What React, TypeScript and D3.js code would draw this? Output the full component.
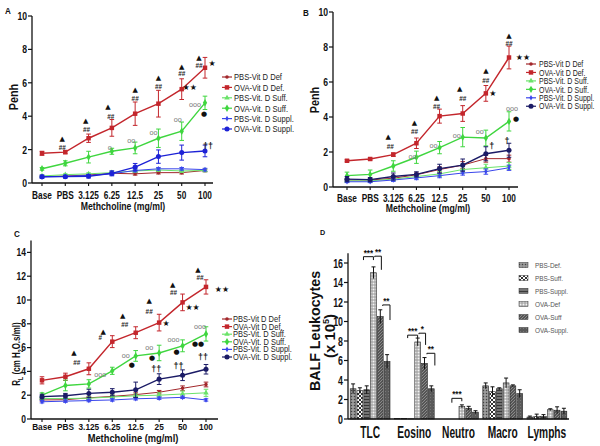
import React from "react";
import * as d3 from "d3";

const doses = ["Base", "PBS", "3.125", "6.25", "12.5", "25", "50", "100"];
const groups = ["PBS-Vit D Def", "OVA-Vit D Def.", "PBS-Vit. D Suff.", "OVA-Vit. D Suff.", "PBS-Vit. D Suppl.", "OVA-Vit. D Suppl."];

// A: Penh
const penhA = [
  [0.38, 0.42, 0.48, 0.58, 0.55, 0.62, 0.62, 0.75],
  [1.78, 1.85, 2.68, 3.3, 4.15, 4.75, 5.62, 6.9],
  [0.42, 0.5, 0.55, 0.62, 0.72, 0.78, 0.72, 0.75],
  [0.85, 1.18, 1.55, 1.9, 2.1, 2.68, 3.1, 4.8],
  [0.35, 0.4, 0.45, 0.55, 0.75, 0.85, 0.85, 0.8],
  [0.38, 0.38, 0.4, 0.58, 0.95, 1.58, 1.82, 1.92],
];
const penhAErr = [
  [0.05, 0.05, 0.05, 0.08, 0.08, 0.08, 0.08, 0.08],
  [0.12, 0.1, 0.25, 0.5, 0.7, 0.8, 0.62, 0.62],
  [0.05, 0.05, 0.06, 0.08, 0.08, 0.08, 0.08, 0.08],
  [0.08, 0.15, 0.35, 0.18, 0.35, 0.55, 0.55, 0.4],
  [0.05, 0.05, 0.05, 0.08, 0.08, 0.08, 0.08, 0.08],
  [0.1, 0.08, 0.1, 0.15, 0.22, 0.4, 0.45, 0.35],
];

// B: Penh
const penhB = [
  [0.4, 0.4, 0.5, 0.7, 1.0, 1.25, 1.62, 1.62],
  [1.5, 1.6, 1.85, 2.5, 4.05, 4.2, 5.35, 7.4],
  [0.35, 0.35, 0.45, 0.6, 0.75, 1.0, 1.1, 1.2],
  [0.65, 0.72, 1.2, 1.7, 2.25, 2.85, 2.8, 3.75],
  [0.3, 0.3, 0.4, 0.52, 0.65, 0.8, 0.88, 1.1],
  [0.45, 0.42, 0.6, 0.72, 1.05, 1.25, 1.9, 2.1],
];
const penhBErr = [
  [0.05, 0.05, 0.08, 0.1, 0.15, 0.2, 0.2, 0.2],
  [0.06, 0.06, 0.1, 0.3, 0.4, 0.45, 0.45, 0.65],
  [0.05, 0.05, 0.1, 0.1, 0.15, 0.2, 0.2, 0.2],
  [0.2, 0.25, 0.3, 0.35, 0.35, 0.55, 0.45, 0.55],
  [0.05, 0.05, 0.08, 0.1, 0.12, 0.12, 0.15, 0.15],
  [0.15, 0.12, 0.2, 0.15, 0.25, 0.35, 0.4, 0.4],
];

// C: lung resistance
const rlC = [
  [1.6, 1.62, 1.78, 1.9, 2.05, 2.25, 2.58, 2.9],
  [3.25, 3.55, 4.22, 6.5, 7.25, 8.1, 9.8, 11.1],
  [1.72, 1.72, 1.75, 1.85, 1.95, 2.0, 2.1, 2.2],
  [2.0, 2.82, 2.95, 4.05, 5.3, 5.55, 6.15, 7.15],
  [1.45, 1.5, 1.55, 1.6, 1.7, 1.75, 1.82, 1.6],
  [1.88, 1.95, 2.15, 2.25, 2.45, 3.35, 3.68, 4.18],
];
const rlCErr = [
  [0.1, 0.1, 0.1, 0.1, 0.15, 0.15, 0.2, 0.2],
  [0.3, 0.3, 0.5, 0.5, 0.5, 0.7, 0.7, 0.6],
  [0.1, 0.1, 0.1, 0.15, 0.15, 0.2, 0.25, 0.3],
  [0.2, 0.45, 0.35, 0.3, 0.45, 0.65, 0.5, 0.6],
  [0.1, 0.1, 0.1, 0.1, 0.1, 0.1, 0.1, 0.1],
  [0.2, 0.2, 0.35, 0.3, 0.65, 0.45, 0.45, 0.4],
];

// D: BALF cells
const cellTypes = ["TLC", "Eosino", "Neutro", "Macro", "Lymphs"];
const balfGroups = ["PBS-Def.", "PBS-Suff.", "PBS-Suppl.", "OVA-Def", "OVA-Suff", "OVA-Suppl."];
const balf = [
  [3.1, 0.05, 0, 3.4, 0.2],
  [2.9, 0.05, 0, 2.8, 0.25],
  [3.0, 0.02, 0, 3.1, 0.25],
  [15.0, 7.9, 1.3, 3.7, 0.95],
  [10.5, 5.7, 1.1, 3.4, 0.9],
  [5.9, 3.1, 0.7, 2.6, 0.8],
];
const balfErr = [
  [0.5, 0, 0, 0.3, 0.1],
  [0.3, 0, 0, 0.5, 0.25],
  [0.4, 0, 0, 0.1, 0.2],
  [0.6, 0.4, 0.15, 0.5, 0.1],
  [0.7, 0.6, 0.2, 0.1, 0.35],
  [0.7, 0.3, 0.15, 0.4, 0.3],
];

// significance symbols: [dose index, level, text, dx]
const marksA: [number, number, string, number][] = [
  [1, 2.69, "▲", -3], [1, 2.16, "##", -3], [2, 3.71, "▲", -3], [2, 3.23, "##", -2],
  [3, 4.55, "▲", -4], [3, 4.01, "##", -1], [4, 5.57, "▲", 0], [4, 5.09, "##", 0],
  [5, 6.29, "▲", 0], [5, 5.81, "##", 0], [6, 7.0, "▲", 0], [6, 6.59, "##", 0],
  [7, 7.54, "▲", -6], [7, 7.07, "##", -6], [6, 5.75, "★★", 8], [7, 7.19, "★", 7],
  [3, 2.16, "o", -2], [4, 2.57, "oo", -4], [5, 3.05, "oo", -5], [6, 3.83, "oo", -4],
  [7, 4.73, "ooo", -10], [7, 4.13, "●", -1], [7, 2.22, "††", 3],
];
const marksB: [number, number, string, number][] = [
  [2, 2.91, "▲", -5], [2, 2.34, "##", -3], [3, 3.71, "▲", -2], [3, 3.2, "##", -2],
  [4, 5.14, "▲", -3], [4, 4.63, "##", -3], [5, 5.6, "▲", -3], [5, 5.09, "##", 0],
  [6, 6.63, "▲", 0], [6, 6.11, "##", 0], [7, 8.63, "▲", 0], [7, 8.23, "##", 0],
  [7, 7.43, "★★", 14], [6, 5.37, "★", 7],
  [3, 1.77, "oo", -4], [4, 2.4, "oo", -6], [5, 2.97, "oo", -6], [6, 3.2, "oo", -6],
  [7, 4.51, "ooo", 3], [7, 3.94, "●", 7], [6, 2.34, "†", 6], [7, 2.63, "†", -2],
];
const marksC: [number, number, string, number][] = [
  [2, 5.55, "▲", -15], [2, 4.79, "##", -12], [3, 7.39, "▲", -9], [3, 6.89, "#", -12],
  [4, 8.66, "▲", -13], [4, 7.98, "##", -11], [5, 9.92, "▲", -10], [5, 9.08, "##", -10],
  [6, 11.26, "▲", -10], [6, 10.67, "##", -9], [7, 12.52, "▲", -8], [7, 11.93, "##", -6],
  [5, 8.07, "★", 7], [6, 9.41, "★★", 10], [7, 10.92, "★★", 16],
  [3, 3.78, "ooo", -12], [4, 5.38, "oo", -10], [5, 6.05, "oo", -10], [6, 6.72, "ooo", -9],
  [7, 7.82, "ooo", -6], [4, 4.54, "●", -4], [5, 5.13, "●", -7], [6, 5.71, "●", -6],
  [7, 6.3, "●●", -8], [5, 4.2, "††", -3], [6, 4.45, "††", -4], [7, 5.21, "††", -3],
];
// brackets: [cell index, from bar, to bar, level, left drop, right drop, text]
const bracketsD: [number, number, number, number, number, number, string][] = [
  [0, 1.5, 3, 16.65, 0.35, 0.35, "***"],
  [0, 3.2, 4.2, 16.7, 0.1, 1.4, "**"],
  [0, 4.4, 5.5, 11.7, 0.1, 1.55, "**"],
  [1, 1.5, 3, 8.6, 0.3, 0.3, "***"],
  [1, 3.2, 4.2, 8.8, 0.1, 1.2, "*"],
  [1, 4.4, 5.6, 6.74, 0.1, 1.25, "**"],
  [2, 1.5, 3, 2.12, 0.45, 0.3, "***"],
];

const FONT = "'Liberation Sans', Arial, sans-serif";

function T({ x, y, s, sx = 1, rot = 0, w = "bold", a = "middle", fill = "#111", ff = FONT, children }: any) {
  return (
    <text transform={`translate(${x},${y}) rotate(${rot}) scale(${sx},1)`} fontSize={s} fontWeight={w}
      textAnchor={a} fill={fill} fontFamily={ff}>{children}</text>
  );
}

const shapes = [
  { shape: d3.symbolCircle, size: 10, width: 1 },
  { shape: d3.symbolSquare, size: 20, width: 1.4 },
  { shape: d3.symbolTriangle, size: 13, width: 1 },
  { shape: d3.symbolDiamond, size: 16, width: 1.4 },
  { shape: d3.symbolDiamond, size: 9, width: 1 },
  { shape: d3.symbolCircle, size: 20, width: 1.4 },
];

function markStyle(t: string) {
  if (t.includes("▲")) return { s: 7, w: "normal", fill: "#111", sx: 1, ff: "DejaVu Sans" };
  if (t.includes("#")) return { s: 8, w: "bold", fill: "#222", sx: 0.8, ff: FONT };
  if (t.includes("★")) return { s: 8, w: "normal", fill: "#111", sx: 1, ff: "DejaVu Sans" };
  if (t.includes("o")) return { s: 8, w: "normal", fill: "#777", sx: 0.9, ff: FONT };
  if (t.includes("●")) return { s: 7, w: "normal", fill: "#111", sx: 1, ff: "DejaVu Sans" };
  return { s: 9, w: "bold", fill: "#222", sx: 1, ff: FONT };
}

function LinePanel({ c, values, errors, marks, colors, yLabel }: any) {
  const x = d3.scalePoint<string>().domain(doses).range([c.xs, c.xe]);
  const y = d3.scaleLinear().domain([0, c.yMax]).range([c.y0, c.y1]);
  const line = d3.line<number>().x((_, i) => x(doses[i])!).y((d) => y(d));
  const ticks = d3.range(0, c.yTickMax + 0.01, c.yStep);
  const order = [0, 2, 4, 1, 3, 5];
  return (
    <g>
      <T x={c.letter[1]} y={c.letter[2]} s={9} sx={0.9} a="start">{c.letter[0]}</T>
      {order.map((k) => {
        const col = colors[k];
        const st = shapes[k];
        const sym = d3.symbol().type(st.shape).size(st.size)()!;
        return (
          <g key={k}>
            <path d={line(values[k])!} fill="none" stroke={col} strokeWidth={st.width} />
            {values[k].map((v: number, i: number) => {
              const cx = x(doses[i])!;
              const e = errors[k][i];
              return (
                <g key={i}>
                  <line x1={cx} x2={cx} y1={y(v - e)} y2={y(v + e)} stroke={col} strokeWidth={1} />
                  <line x1={cx - 2.3} x2={cx + 2.3} y1={y(v - e)} y2={y(v - e)} stroke={col} strokeWidth={1} />
                  <line x1={cx - 2.3} x2={cx + 2.3} y1={y(v + e)} y2={y(v + e)} stroke={col} strokeWidth={1} />
                  <path d={sym} transform={`translate(${cx},${y(v)})`} fill={col} />
                </g>
              );
            })}
          </g>
        );
      })}
      {/* axes */}
      <line x1={c.ax} x2={c.ax} y1={c.y0} y2={c.y1} stroke="#111" strokeWidth={1.3} />
      <line x1={c.ax} x2={c.axEnd} y1={c.y0} y2={c.y0} stroke="#111" strokeWidth={1.3} />
      {ticks.map((t: number) => (
        <g key={t}>
          <line x1={c.ax - 4} x2={c.ax} y1={y(t)} y2={y(t)} stroke="#111" strokeWidth={1.2} />
          <T x={c.ax - 5} y={y(t) + c.yFont * 0.35} s={c.yFont} sx={c.ySx} a="end">{t}</T>
        </g>
      ))}
      {doses.map((d) => (
        <g key={d}>
          <line x1={x(d)} x2={x(d)} y1={c.y0} y2={c.y0 + 3} stroke="#111" strokeWidth={1.1} />
          <T x={x(d)} y={c.xTickY} s={c.xFont} sx={c.xSx}>{d}</T>
        </g>
      ))}
      <T x={c.titleX} y={c.titleY} s={c.titleFont} sx={c.titleSx}>Methcholine (mg/ml)</T>
      {yLabel}
      {/* significance symbols */}
      {marks.map((m: any, i: number) => {
        const ms = markStyle(m[2]);
        return (
          <T key={i} x={x(doses[m[0]])! + m[3]} y={y(m[1]) + ms.s * 0.35} s={ms.s} sx={ms.sx} w={ms.w} fill={ms.fill} ff={ms.ff}>{m[2]}</T>
        );
      })}
      {/* legend */}
      {groups.map((g, k) => {
        const ly = c.legY + k * c.legDy;
        const sym = d3.symbol().type(shapes[k].shape).size(shapes[k].size)()!;
        return (
          <g key={g}>
            <line x1={c.legX - 5} x2={c.legX + 5} y1={ly} y2={ly} stroke={colors[k]} strokeWidth={1.2} />
            <path d={sym} transform={`translate(${c.legX},${ly})`} fill={colors[k]} />
            <T x={c.legX + c.legOff} y={ly + c.legFont * 0.35} s={c.legFont} sx={c.legSx} w="normal" a="start" fill="#222">{g}</T>
          </g>
        );
      })}
    </g>
  );
}

const colorsA = ["#a2272b", "#c3262c", "#6be36a", "#3fd63f", "#3a46ec", "#1d22d6"];
const colorsBC = ["#a2272b", "#c3262c", "#6be36a", "#3fd63f", "#3a46ec", "#1b1b66"];

const cfgA = {
  letter: ["A", 5, 14], xs: 42, xe: 205, y0: 183, y1: 16, yMax: 10, yTickMax: 10, yStep: 2, ax: 32, axEnd: 213,
  yFont: 11.5, ySx: 0.75, xTickY: 199, xFont: 11.5, xSx: 0.72, titleX: 123, titleY: 210, titleFont: 11, titleSx: 0.79,
  legX: 227, legY: 77, legDy: 10.4, legOff: 7, legFont: 9.5, legSx: 0.8,
};
const cfgB = {
  letter: ["B", 303, 16], xs: 347, xe: 509, y0: 187, y1: 12, yMax: 10, yTickMax: 10, yStep: 2, ax: 333, axEnd: 518,
  yFont: 11.5, ySx: 0.75, xTickY: 202, xFont: 11.5, xSx: 0.72, titleX: 428, titleY: 212, titleFont: 11, titleSx: 0.79,
  legX: 531, legY: 64, legDy: 8.45, legOff: 8, legFont: 9, legSx: 0.78,
};
const cfgC = {
  letter: ["C", 14, 237], xs: 42, xe: 206, y0: 419, y1: 240.5, yMax: 15, yTickMax: 14, yStep: 2, ax: 31, axEnd: 218,
  yFont: 10, ySx: 0.85, xTickY: 430, xFont: 9, xSx: 0.92, titleX: 133, titleY: 442, titleFont: 10.5, titleSx: 0.89,
  legX: 227, legY: 319, legDy: 7.6, legOff: 6, legFont: 8.5, legSx: 0.88,
};

const patternIds = ["pDef", "pSuff", "pSup", "oDef", "oSuff", "oSup"];

function BarPanel() {
  const y = d3.scaleLinear().domain([0, 17]).range([419, 253.25]);
  const x0 = d3.scaleBand<string>().domain(cellTypes).range([348, 569]).paddingInner(0.1).paddingOuter(0.05);
  const x1 = d3.scaleBand<string>().domain(balfGroups).range([0, x0.bandwidth()]).paddingInner(0.15);
  const step = x0.bandwidth() / balfGroups.length;
  const bx = (g: number, b: number) => x0(cellTypes[g])! + (b + 0.5) * step;
  return (
    <g>
      <defs>
        <pattern id="pDef" width="3" height="3" patternUnits="userSpaceOnUse">
          <rect width="3" height="3" fill="#8c8c8c" />
          <rect width="1" height="1" fill="#444" />
          <rect x="1.5" y="1.5" width="1" height="1" fill="#ccc" />
        </pattern>
        <pattern id="pSuff" width="4" height="4" patternUnits="userSpaceOnUse">
          <rect width="4" height="4" fill="#fff" />
          <path d="M0,0L4,4M4,0L0,4" stroke="#333" strokeWidth="1" />
        </pattern>
        <pattern id="pSup" width="3" height="3" patternUnits="userSpaceOnUse">
          <rect width="3" height="3" fill="#3a3a3a" />
          <rect y="1.5" width="3" height="1" fill="#b0b0b0" />
        </pattern>
        <pattern id="oDef" width="3" height="3" patternUnits="userSpaceOnUse">
          <rect width="3" height="3" fill="#9a9a9a" />
          <rect x="0.5" y="0.5" width="2" height="2" fill="#f4f4f4" />
        </pattern>
        <pattern id="oSuff" width="3" height="3" patternUnits="userSpaceOnUse">
          <rect width="3" height="3" fill="#555" />
          <path d="M0,3L3,0" stroke="#999" strokeWidth="0.8" />
        </pattern>
        <pattern id="oSup" width="3" height="3" patternUnits="userSpaceOnUse">
          <rect width="3" height="3" fill="#5a5a5a" />
          <rect x="1" y="1" width="1" height="1" fill="#777" />
        </pattern>
      </defs>
      <T x={320} y={235} s={8} sx={0.9} a="start">D</T>
      {cellTypes.map((ct, g) => (
        <g key={ct}>
          {balfGroups.map((bg, b) => {
            const v = balf[b][g];
            const e = balfErr[b][g];
            const bxl = x0(ct)! + x1(bg)!;
            const cx = bxl + x1.bandwidth() / 2;
            return (
              <g key={bg}>
                <rect x={bxl} y={y(v)} width={x1.bandwidth()} height={y(0) - y(v)} fill={`url(#${patternIds[b]})`}
                  stroke="#222" strokeWidth={0.6} />
                {e > 0 && (
                  <g stroke="#111" strokeWidth={1}>
                    <line x1={cx} x2={cx} y1={y(v - e)} y2={y(v + e)} />
                    <line x1={cx - 2} x2={cx + 2} y1={y(v + e)} y2={y(v + e)} />
                  </g>
                )}
              </g>
            );
          })}
          <T x={x0(ct)! + x0.bandwidth() / 2} y={438} s={17} sx={0.6}>{ct}</T>
        </g>
      ))}
      {bracketsD.map((br, i) => {
        const xa = bx(br[0], br[1]);
        const xb = bx(br[0], br[2]);
        return (
          <g key={i}>
            <path d={`M${xa},${y(br[3] - br[4])}V${y(br[3])}H${xb}V${y(br[3] - br[5])}`} fill="none" stroke="#111" strokeWidth={1} />
            <T x={(xa + xb) / 2} y={y(br[3]) - 1} s={9} sx={0.9}>{br[6]}</T>
          </g>
        );
      })}
      <line x1={348} x2={348} y1={419} y2={y(17)} stroke="#111" strokeWidth={1.3} />
      <line x1={348} x2={569} y1={419} y2={419} stroke="#111" strokeWidth={1.3} />
      {d3.range(0, 17, 2).map((t) => (
        <g key={t}>
          <line x1={344} x2={348} y1={y(t)} y2={y(t)} stroke="#111" strokeWidth={1.2} />
          <T x={343} y={y(t) + 4.5} s={13} sx={0.68} a="end">{t}</T>
        </g>
      ))}
      <T x={320} y={331} s={15} sx={0.95} rot={-90}>BALF Leukocytes</T>
      <T x={334.5} y={336} s={15} rot={-90}>(x 10<tspan fontSize={9} dy={-6}>5</tspan><tspan dy={6}>)</tspan></T>
      {balfGroups.map((bg, b) => (
        <g key={bg}>
          <rect x={519} y={265 + b * 13 - 2.5} width={9} height={5} fill={`url(#${patternIds[b]})`} stroke="#333" strokeWidth={0.5} />
          <T x={535} y={265 + b * 13 + 2.8} s={8} sx={0.8} w="normal" a="start" fill="#555">{bg}</T>
        </g>
      ))}
    </g>
  );
}

export default function App() {
  return (
    <svg width={600} height={446} style={{ position: "absolute", left: 0, top: 0, background: "#fff" }}>
      <LinePanel c={cfgA} values={penhA} errors={penhAErr} marks={marksA} colors={colorsA}
        yLabel={<T x={17.5} y={97} s={12} sx={0.9} rot={-90}>Penh</T>} />
      <LinePanel c={cfgB} values={penhB} errors={penhBErr} marks={marksB} colors={colorsBC}
        yLabel={<T x={318.5} y={100} s={12} sx={0.9} rot={-90}>Penh</T>} />
      <LinePanel c={cfgC} values={rlC} errors={rlCErr} marks={marksC} colors={colorsBC}
        yLabel={
          <T x={20} y={354} s={10.5} sx={0.76} rot={-90}>
            R<tspan fontSize={7} dy={3}>L</tspan><tspan dy={-3}> (cm H</tspan><tspan fontSize={7} dy={3}>2</tspan><tspan dy={-3}>O.s/ml)</tspan>
          </T>
        } />
      <BarPanel />
    </svg>
  );
}
